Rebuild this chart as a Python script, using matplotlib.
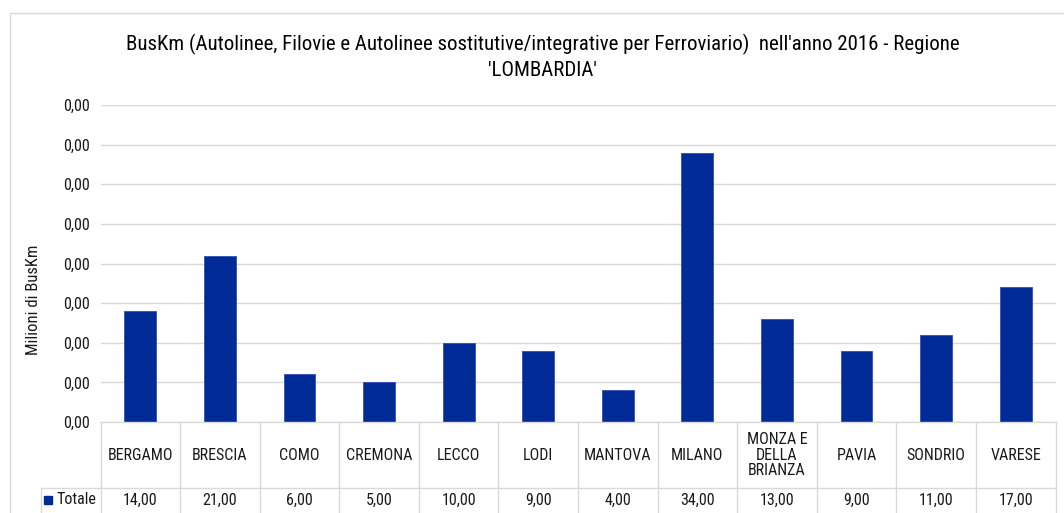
import matplotlib
matplotlib.use("Agg")
import matplotlib.pyplot as plt
from matplotlib import font_manager as fm
from matplotlib.lines import Line2D
from matplotlib.patches import Rectangle
import matplotlib.transforms as mtransforms

# ---- data ----
categories = ["BERGAMO", "BRESCIA", "COMO", "CREMONA", "LECCO", "LODI", "MANTOVA",
              "MILANO", "MONZA E\nDELLA\nBRIANZA", "PAVIA", "SONDRIO", "VARESE"]
values = [14, 21, 6, 5, 10, 9, 4, 34, 13, 9, 11, 17]
value_labels = ["14,00", "21,00", "6,00", "5,00", "10,00", "9,00", "4,00",
                "34,00", "13,00", "9,00", "11,00", "17,00"]
ytick_values = [0, 5, 10, 15, 20, 25, 30, 35, 40]
ytick_labels = ["0,00"] * 9
series_name = "Totale"
title = ("BusKm (Autolinee, Filovie e Autolinee sostitutive/integrative per Ferroviario)  "
         "nell'anno 2016 - Regione\n'LOMBARDIA'")
ylabel = "Milioni di BusKm"

# ---- font ----
names = {f.name for f in fm.fontManager.ttflist}
family = "DejaVu Sans"
for cand in ["Liberation Sans Narrow", "Roboto Condensed", "Arial Narrow", "Roboto", "Liberation Sans"]:
    if cand in names:
        family = cand
        break
narrow = "Narrow" in family or "Condensed" in family
plt.rcParams["font.family"] = [family, "DejaVu Sans"]

W, H = 1064, 513
fig = plt.figure(figsize=(W / 100, H / 100), dpi=100)

def fx(x):
    return x / W

def fy(y):
    return 1 - y / H

bar_color = "#002A96"
grid_color = "#D9D9D9"
text_color = "#1A1A1A"

# chart border
fig.add_artist(Rectangle((fx(10), fy(600)), fx(1100), fy(13) - fy(600),
                         transform=fig.transFigure, fill=False, edgecolor="#D9D9D9", lw=1))

ax_l, ax_r, ax_t, ax_b = 100.5, 1055.5, 105, 422
ax = fig.add_axes([fx(ax_l), fy(ax_b), fx(ax_r) - fx(ax_l), fy(ax_t) - fy(ax_b)])
n = len(categories)
x = list(range(n))
ax.bar(x, values, width=0.4, color=bar_color, edgecolor="#2F4FB5", linewidth=0.6, zorder=3)
ax.set_xlim(-0.5, n - 0.5)
ax.set_ylim(0, 40)
ax.set_yticks(ytick_values)
fs = 11.5 if narrow else 10.5
ax.set_yticklabels(ytick_labels, fontsize=fs, color=text_color)
ax.set_xticks([])
ax.tick_params(axis="y", length=0, pad=8)
ax.grid(axis="y", color=grid_color, lw=1, zorder=0)
for s in ax.spines.values():
    s.set_visible(False)

# title
fig.text(0.510, fy(57), title, ha="center", va="center", fontsize=15 if narrow else 13.3,
         color="black", linespacing=1.45)
# y label
fig.text(fx(33), fy(300), ylabel, rotation=90, ha="center", va="center",
         fontsize=12 if narrow else 11.5, color=text_color)

# ---- data table ----
trans = mtransforms.blended_transform_factory(ax.transData, fig.transFigure)
row1_bottom = 488
fig_bottom = 513
for i in range(n + 1):
    xb = i - 0.5
    fig.add_artist(Line2D([xb, xb], [fy(ax_b), fy(fig_bottom + 5)], transform=trans,
                          color=grid_color, lw=1))
fig.add_artist(Line2D([fx(41), fx(ax_r)], [fy(row1_bottom), fy(row1_bottom)],
                      transform=fig.transFigure, color=grid_color, lw=1))
fig.add_artist(Line2D([fx(41), fx(41)], [fy(row1_bottom), fy(fig_bottom + 5)],
                      transform=fig.transFigure, color=grid_color, lw=1))
fig.add_artist(Line2D([fx(ax_l), fx(ax_r)], [fy(ax_b), fy(ax_b)],
                      transform=fig.transFigure, color=grid_color, lw=1))

for i, (c, v) in enumerate(zip(categories, value_labels)):
    fig.text(i, fy(455), c, transform=trans, ha="center", va="center", fontsize=fs,
             color=text_color, linespacing=1.05)
    fig.text(i, fy(500), v, transform=trans, ha="center", va="center", fontsize=fs,
             color=text_color)

fig.add_artist(Rectangle((fx(44), fy(504)), fx(8), fy(496) - fy(504),
                         transform=fig.transFigure, color=bar_color))
fig.text(fx(56), fy(500), series_name, ha="left", va="center", fontsize=fs, color=text_color)

fig.savefig("out.png", dpi=100, facecolor="white")
